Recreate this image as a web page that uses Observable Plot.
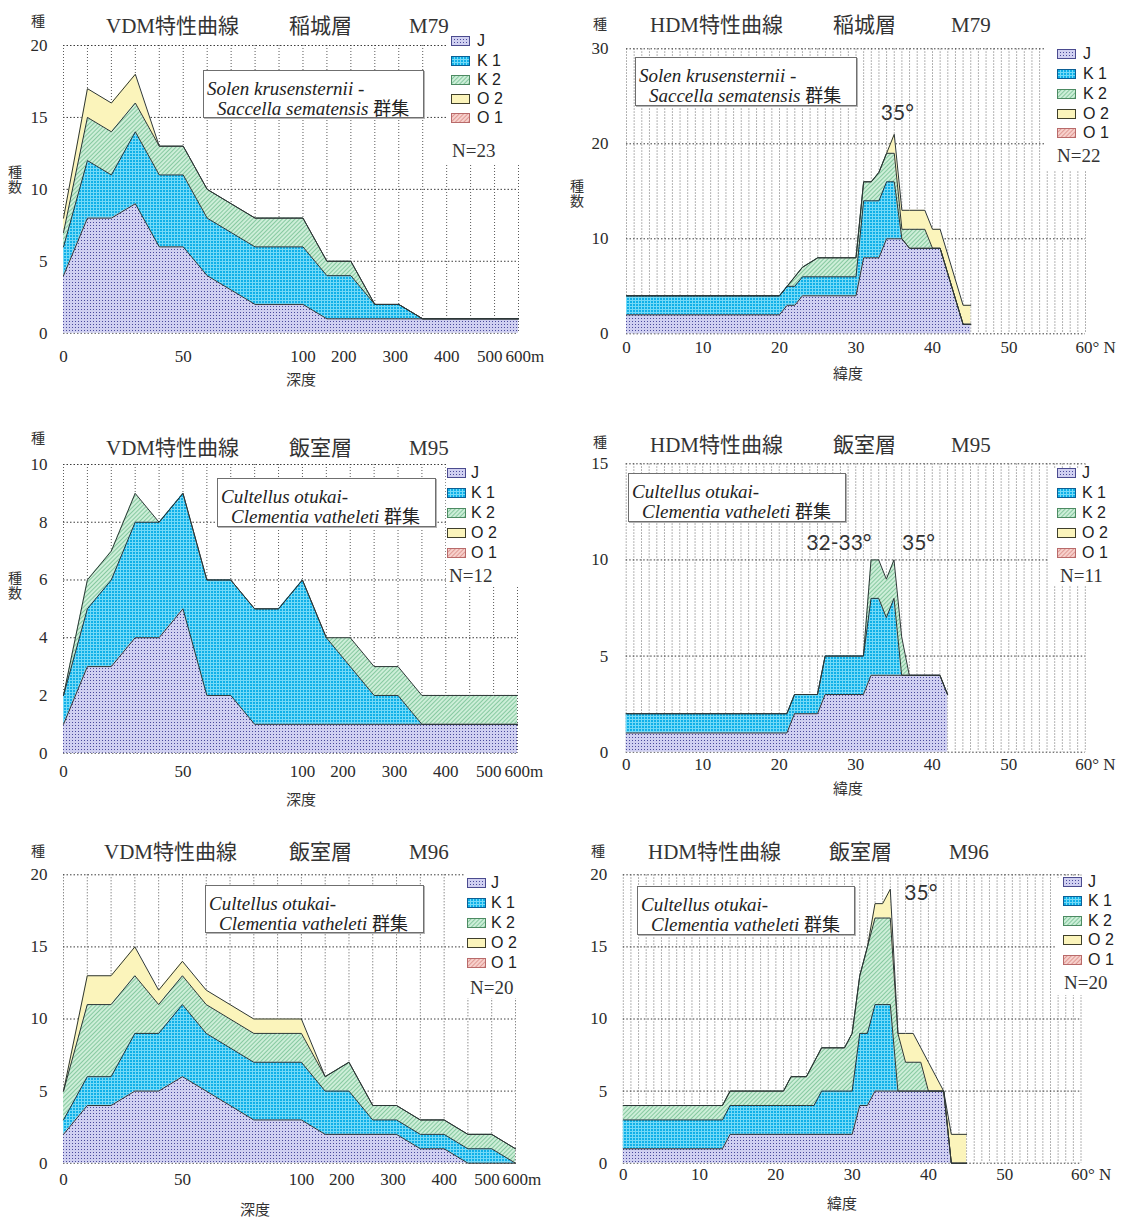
<!DOCTYPE html>
<html lang="ja">
<head>
<meta charset="utf-8">
<title>VDM・HDM特性曲線</title>
<script src="https://cdn.jsdelivr.net/npm/d3@7"></script>
<script src="https://cdn.jsdelivr.net/npm/@observablehq/plot@0.6"></script>
<style>
  html, body { margin: 0; padding: 0; background: #fff; }
  #page { position: relative; width: 1122px; height: 1224px; overflow: hidden; background: #fff; color: #2a2a2a;
          font-family: "Liberation Serif", "Noto Sans CJK JP", serif; }
  .lbl { position: absolute; white-space: nowrap; line-height: 1; z-index: 3; }
  .title { font-size: 21px; color: #333; }
  .small { font-size: 14px; font-family: "Noto Sans CJK JP", sans-serif; color: #333; }
  .vert { font-size: 14px; font-family: "Noto Sans CJK JP", sans-serif; color: #333;
          writing-mode: vertical-rl; letter-spacing: 1px; }
  .axt { font-size: 15px; font-family: "Noto Sans CJK JP", sans-serif; color: #333; }
  .leg { font-size: 16px; font-family: "Liberation Sans", Arial, sans-serif; color: #222; }
  .nlab { font-size: 19px; color: #333; }
  .white { position: absolute; background: #fff; z-index: 1; }
  .sw { position: absolute; z-index: 2; }
  .sp { position: absolute; background: #fff; border: 1px solid #6f6f6f; box-shadow: 1px 1px 0 #b5b5b5; box-sizing: border-box; z-index: 2; }
  .sp div { position: absolute; white-space: nowrap; line-height: 1; font-size: 19px; font-style: italic; color: #222; }
  .sp span.cjk { font-style: normal; font-family: "Noto Sans CJK JP", sans-serif; font-size: 18px; }
</style>
</head>
<body>
<div id="page"></div>
<script>
// ---------- categories ----------
const seriesNames = ["J", "K 1", "K 2", "O 2", "O 1"];

// ---------- VDM: depth stations and axis labels ----------
const depthStations = [0, 1, 2, 3, 4, 5, 6, 7, 8, 9, 10, 11, 12, 13, 14, 15, 16, 17, 18, 19];
const depthTickAt = [0, 5, 10, 11.7, 13.85, 16, 17.8, 19];
const depthTickLabels = ["0", "50", "100", "200", "300", "400", "500", "600m"];

// ---------- HDM: latitude axis labels ----------
const latTickAt = [0, 10, 20, 30, 40, 50, 60];
const latTickLabels = ["0", "10", "20", "30", "40", "50", "60° N"];

// ---------- 稲城層 M79, VDM ----------
const vdmM79_J  = [4, 8, 8, 9, 6, 6, 4, 3, 2, 2, 2, 1, 1, 1, 1, 1, 1, 1, 1, 1];
const vdmM79_K1 = [2, 4, 3, 5, 5, 5, 4, 4, 4, 4, 4, 3, 3, 1, 1, 0, 0, 0, 0, 0];
const vdmM79_K2 = [1, 3, 3, 2, 2, 2, 2, 2, 2, 2, 2, 1, 1, 0, 0, 0, 0, 0, 0, 0];
const vdmM79_O2 = [1, 2, 2, 2, 0, 0, 0, 0, 0, 0, 0, 0, 0, 0, 0, 0, 0, 0, 0, 0];

// ---------- 稲城層 M79, HDM ----------
const hdmM79_lat = [0, 20, 21, 22, 23, 25, 30, 31, 32, 33, 34, 35, 36, 37, 39, 40, 41, 44, 45];
const hdmM79_J   = [2, 2, 3, 3, 4, 4, 4, 8, 8, 8, 10, 10, 10, 9, 9, 9, 9, 1, 1];
const hdmM79_K1  = [2, 2, 2, 2, 2, 2, 2, 6, 6, 6, 6, 6, 0, 0, 0, 0, 0, 0, 0];
const hdmM79_K2  = [0, 0, 0, 1, 1, 2, 2, 2, 2, 3, 3, 3, 1, 2, 2, 0, 0, 0, 0];
const hdmM79_O2  = [0, 0, 0, 0, 0, 0, 0, 0, 0, 0, 0, 2, 2, 2, 2, 2, 2, 2, 2];

// ---------- 飯室層 M95, VDM ----------
const vdmM95_J  = [1, 3, 3, 4, 4, 5, 2, 2, 1, 1, 1, 1, 1, 1, 1, 1, 1, 1, 1, 1];
const vdmM95_K1 = [1, 2, 3, 4, 4, 4, 4, 4, 4, 4, 5, 3, 2, 1, 1, 0, 0, 0, 0, 0];
const vdmM95_K2 = [0, 1, 1, 1, 0, 0, 0, 0, 0, 0, 0, 0, 1, 1, 1, 1, 1, 1, 1, 1];

// ---------- 飯室層 M95, HDM ----------
const hdmM95_lat = [0, 21, 22, 25, 26, 31, 32, 33, 34, 35, 36, 37, 41, 42];
const hdmM95_J   = [1, 1, 2, 2, 3, 3, 4, 4, 4, 4, 4, 4, 4, 3];
const hdmM95_K1  = [1, 1, 1, 1, 2, 2, 4, 4, 3, 4, 0, 0, 0, 0];
const hdmM95_K2  = [0, 0, 0, 0, 0, 0, 2, 2, 2, 2, 2, 0, 0, 0];

// ---------- 飯室層 M96, VDM ----------
const vdmM96_J  = [2, 4, 4, 5, 5, 6, 5, 4, 3, 3, 3, 2, 2, 2, 2, 1, 1, 0, 0, 0];
const vdmM96_K1 = [1, 2, 2, 4, 4, 5, 4, 4, 4, 4, 4, 3, 3, 1, 1, 1, 1, 1, 1, 0];
const vdmM96_K2 = [2, 5, 5, 4, 2, 2, 2, 2, 2, 2, 2, 1, 2, 1, 1, 1, 1, 1, 1, 1];
const vdmM96_O2 = [0, 2, 2, 2, 1, 1, 1, 1, 1, 1, 1, 0, 0, 0, 0, 0, 0, 0, 0, 0];

// ---------- 飯室層 M96, HDM ----------
const hdmM96_lat = [0, 13, 14, 21, 22, 24, 25, 26, 29, 30, 31, 32, 33, 34, 35, 36, 37, 38, 39, 40, 41, 42, 43, 44, 45];
const hdmM96_J   = [1, 1, 2, 2, 2, 2, 2, 2, 2, 2, 4, 4, 5, 5, 5, 5, 5, 5, 5, 5, 5, 5, 0, 0, 0];
const hdmM96_K1  = [2, 2, 2, 2, 2, 2, 2, 3, 3, 3, 5, 5, 6, 6, 6, 0, 0, 0, 0, 0, 0, 0, 0, 0, 0];
const hdmM96_K2  = [1, 1, 1, 1, 2, 2, 3, 3, 3, 4, 4, 6, 6, 6, 6, 4, 2, 2, 2, 0, 0, 0, 0, 0, 0];
const hdmM96_O2  = [0, 0, 0, 0, 0, 0, 0, 0, 0, 0, 0, 0, 1, 1, 2, 0, 2, 2, 1, 2, 1, 0, 2, 2, 2];

// ---------- group names ----------
const groupInagi = ["Solen krusensternii -", "Saccella sematensis"];
const groupIimuro = ["Cultellus otukai-", "Clementia vatheleti"];

// ---------- fill patterns ----------
const patternIds = { "J": "pat-j", "K 1": "pat-k1", "K 2": "pat-k2", "O 2": "pat-o2", "O 1": "pat-o1" };
const swatchEdge = { "J": "#4b4b8f", "K 1": "#0b5f95", "K 2": "#4d8a62", "O 2": "#3f3f2a", "O 1": "#b86a6a" };

const page = document.getElementById("page");
page.insertAdjacentHTML("beforeend", `
<svg width="0" height="0" style="position:absolute;left:0;top:0">
  <defs>
    <pattern id="pat-j" width="3" height="3" patternUnits="userSpaceOnUse">
      <rect width="3" height="3" fill="#d0d0f1"/>
      <rect width="1" height="1" fill="#4a4a9c"/>
    </pattern>
    <pattern id="pat-k1" width="3" height="3" patternUnits="userSpaceOnUse">
      <rect width="3" height="3" fill="#10b0e8"/>
      <rect width="3" height="1" fill="#74daf7"/>
      <rect width="1" height="3" fill="#74daf7"/>
    </pattern>
    <pattern id="pat-k2" width="3" height="3" patternUnits="userSpaceOnUse" patternTransform="rotate(45)">
      <rect width="3" height="3" fill="#cdeed8"/>
      <rect width="1" height="3" fill="#86c9a0"/>
    </pattern>
    <pattern id="pat-o2" width="3" height="3" patternUnits="userSpaceOnUse">
      <rect width="3" height="3" fill="#fbf4bb"/>
    </pattern>
    <pattern id="pat-o1" width="3" height="3" patternUnits="userSpaceOnUse" patternTransform="rotate(45)">
      <rect width="3" height="3" fill="#f6d0cc"/>
      <rect width="1" height="3" fill="#e09a94"/>
    </pattern>
  </defs>
</svg>`);

// ---------- panel layout (page coordinates) ----------
const vdmTicks = depthTickAt.map((pos, i) => ({pos, label: depthTickLabels[i]}));
const hdmTicks = latTickAt.map((pos, i) => ({pos, label: latTickLabels[i]}));
const latGrid = d3.range(0, 61);

const panels = [
  { kind: "vdm", box: [0, 0, 560, 410], frame: [63, 518, 45, 332.7], yMax: 20, yTicks: [0, 5, 10, 15, 20],
    x: depthStations, series: [vdmM79_J, vdmM79_K1, vdmM79_K2, vdmM79_O2],
    xDy: 29, yDx: -16, lastDx: -13,
    title: [["VDM特性曲線", 106], ["稲城層", 289], ["M79", 409]], titleY: 26,
    unit: [38, 20], unitV: [15, 180], axisTitle: ["深度", 301, 378],
    group: groupInagi, spBox: [203, 70, 221, 48],
    legend: { sx: 451, rows: [41, 61, 80, 99, 118], tx: 477, n: "N=23", nx: 452, ny: 150, white: [446, 34, 114, 129] },
    notes: [] },
  { kind: "hdm", box: [560, 0, 562, 410], frame: [626, 1085, 48.3, 333.3], yMax: 30, yTicks: [0, 10, 20, 30],
    x: hdmM79_lat, series: [hdmM79_J, hdmM79_K1, hdmM79_K2, hdmM79_O2],
    xDy: 19, yDx: -18, lastDx: -10,
    title: [["HDM特性曲線", 650], ["稲城層", 833], ["M79", 951]], titleY: 25,
    unit: [600, 23], unitV: [577, 194], axisTitle: ["緯度", 848, 372],
    group: groupInagi, spBox: [635, 57, 222, 49],
    legend: { sx: 1057, rows: [54, 74, 94, 114, 133], tx: 1083, n: "N=22", nx: 1057, ny: 155, white: [1044, 30, 78, 140] },
    notes: [{text: "35°", x: 35.4, y: 23.2}] },
  { kind: "vdm", box: [0, 410, 560, 415], frame: [63, 517, 464, 752.7], yMax: 10, yTicks: [0, 2, 4, 6, 8, 10],
    x: depthStations, series: [vdmM95_J, vdmM95_K1, vdmM95_K2],
    xDy: 24, yDx: -16, lastDx: -13,
    title: [["VDM特性曲線", 106], ["飯室層", 289], ["M95", 409]], titleY: 448,
    unit: [38, 437], unitV: [15, 586], axisTitle: ["深度", 301, 798],
    group: groupIimuro, spBox: [217, 478, 219, 49],
    legend: { sx: 447, rows: [473, 493, 513, 533, 553], tx: 471, n: "N=12", nx: 449, ny: 575, white: [446, 458, 114, 127] },
    notes: [] },
  { kind: "hdm", box: [560, 410, 562, 415], frame: [625.7, 1084.8, 463.3, 751.7], yMax: 15, yTicks: [0, 5, 10, 15],
    x: hdmM95_lat, series: [hdmM95_J, hdmM95_K1, hdmM95_K2],
    xDy: 18, yDx: -18, lastDx: -10,
    title: [["HDM特性曲線", 650], ["飯室層", 833], ["M95", 951]], titleY: 445,
    unit: [600, 441], unitV: null, axisTitle: ["緯度", 848, 787],
    group: groupIimuro, spBox: [628, 473, 218, 49],
    legend: { sx: 1057, rows: [473, 493, 513, 533, 553], tx: 1082, n: "N=11", nx: 1060, ny: 575, white: [1048, 468, 74, 117] },
    notes: [{text: "32-33°", x: 27.8, y: 10.85}, {text: "35°", x: 38.2, y: 10.85}] },
  { kind: "vdm", box: [0, 825, 560, 399], frame: [63, 515, 874.3, 1162.7], yMax: 20, yTicks: [0, 5, 10, 15, 20],
    x: depthStations, series: [vdmM96_J, vdmM96_K1, vdmM96_K2, vdmM96_O2],
    xDy: 22, yDx: -16, lastDx: -13,
    title: [["VDM特性曲線", 104], ["飯室層", 289], ["M96", 409]], titleY: 852,
    unit: [38, 850], unitV: null, axisTitle: ["深度", 255, 1208],
    group: groupIimuro, spBox: [205, 885, 219, 48],
    legend: { sx: 467, rows: [883, 903, 923, 943, 963], tx: 491, n: "N=20", nx: 470, ny: 987, white: [465, 866, 95, 132] },
    notes: [] },
  { kind: "hdm", box: [560, 825, 562, 399], frame: [622.8, 1080.5, 874.3, 1162.7], yMax: 20, yTicks: [0, 5, 10, 15, 20],
    x: hdmM96_lat, series: [hdmM96_J, hdmM96_K1, hdmM96_K2, hdmM96_O2],
    xDy: 17, yDx: -16, lastDx: -10,
    title: [["HDM特性曲線", 648], ["飯室層", 829], ["M96", 949]], titleY: 852,
    unit: [598, 850], unitV: null, axisTitle: ["緯度", 842, 1202],
    group: groupIimuro, spBox: [637, 886, 218, 49],
    legend: { sx: 1063, rows: [882, 901, 921, 940, 960], tx: 1088, n: "N=20", nx: 1064, ny: 982, white: [1056, 878, 66, 117] },
    notes: [{text: "35°", x: 39.0, y: 18.7}] }
];

function label(text, x, y, cls, centered) {
  const d = document.createElement("div");
  d.className = "lbl " + cls;
  d.textContent = text;
  d.style.left = x + "px";
  d.style.top = y + "px";
  d.style.transform = centered ? "translate(-50%,-50%)" : "translate(0,-50%)";
  page.appendChild(d);
  return d;
}

const serif = "Liberation Serif, serif";

function drawPanel(p) {
  const [bx, by, bw, bh] = p.box;
  const [fl, fr, ft, fb] = p.frame;
  const rows = [];
  p.series.forEach((vals, k) => vals.forEach((v, i) => rows.push({x: p.x[i], series: seriesNames[k], value: v})));
  const stackOpts = {x: "x", y: "value", z: "series", order: seriesNames};
  const vdm = p.kind === "vdm";
  const ticks = vdm ? vdmTicks : hdmTicks;

  const svg = Plot.plot({
    width: bw, height: bh,
    marginLeft: fl - bx, marginRight: bx + bw - fr, marginTop: ft - by, marginBottom: by + bh - fb,
    x: {domain: vdm ? [0, 19] : [0, 60], axis: null},
    y: {domain: [0, p.yMax], axis: null},
    color: {domain: seriesNames, range: seriesNames.map(s => `url(#${patternIds[s]})`)},
    style: {overflow: "visible", background: "transparent"},
    marks: [
      vdm
        ? Plot.ruleX(depthStations, {stroke: "#5a5a5a", strokeWidth: 1, strokeDasharray: "1,2"})
        : Plot.ruleX(latGrid, {stroke: "#8f8f8f", strokeWidth: 0.9, strokeDasharray: "1.5,1.5"}),
      Plot.ruleY(p.yTicks, {stroke: "#3c3c3c", strokeWidth: 1, strokeDasharray: "1.5,2"}),
      Plot.areaY(rows, Plot.stackY({...stackOpts, fill: "series"})),
      Plot.lineY(rows, Plot.stackY2({...stackOpts, stroke: "#2d3636", strokeWidth: 1})),
      Plot.text(p.yTicks, {y: d => d, frameAnchor: "left", dx: p.yDx, textAnchor: "end",
        fontSize: 17, fontFamily: serif, fill: "#2a2a2a"}),
      Plot.text(ticks.slice(0, -1), {x: "pos", text: "label", frameAnchor: "bottom", dy: p.xDy,
        fontSize: 17, fontFamily: serif, fill: "#2a2a2a"}),
      Plot.text(ticks.slice(-1), {x: "pos", text: "label", frameAnchor: "bottom", dy: p.xDy, dx: p.lastDx,
        textAnchor: "start", fontSize: 17, fontFamily: serif, fill: "#2a2a2a"}),
      Plot.text(p.notes, {x: "x", y: "y", text: "text", fontSize: 21, fontFamily: "Lato, sans-serif", fill: "#333"})
    ]
  });
  svg.style.position = "absolute";
  svg.style.left = bx + "px";
  svg.style.top = by + "px";
  page.appendChild(svg);

  // headings
  p.title.forEach(([t, x]) => label(t, x, p.titleY, "title", false));
  label("種", p.unit[0], p.unit[1], "small", true);
  if (p.unitV) label("種数", p.unitV[0], p.unitV[1], "vert", true);
  label(p.axisTitle[0], p.axisTitle[1], p.axisTitle[2], "axt", true);

  // group name box
  const [sx, sy, sw, sh] = p.spBox;
  const box = document.createElement("div");
  box.className = "sp";
  Object.assign(box.style, {left: sx + "px", top: sy + "px", width: sw + "px", height: sh + "px"});
  const l1 = document.createElement("div");
  l1.textContent = p.group[0];
  Object.assign(l1.style, {left: "3px", top: "8px"});
  const l2 = document.createElement("div");
  l2.textContent = p.group[1] + " ";
  const cjk = document.createElement("span");
  cjk.className = "cjk";
  cjk.textContent = "群集";
  l2.appendChild(cjk);
  Object.assign(l2.style, {left: "13px", top: "27px"});
  box.appendChild(l1);
  box.appendChild(l2);
  page.appendChild(box);

  // legend
  const lg = p.legend;
  const w = document.createElement("div");
  w.className = "white";
  Object.assign(w.style, {left: lg.white[0] + "px", top: lg.white[1] + "px", width: lg.white[2] + "px", height: lg.white[3] + "px"});
  page.appendChild(w);
  seriesNames.forEach((s, i) => {
    const y = lg.rows[i];
    page.insertAdjacentHTML("beforeend",
      `<svg class="sw" width="20" height="11" style="left:${lg.sx}px;top:${y - 5}px">
         <rect x="0.5" y="0.5" width="18" height="9" fill="url(#${patternIds[s]})" stroke="${swatchEdge[s]}" stroke-width="1"/>
       </svg>`);
    label(s, lg.tx, y, "leg", false);
  });
  label(lg.n, lg.nx, lg.ny, "nlab", false);
}

panels.forEach(drawPanel);
</script>
</body>
</html>
